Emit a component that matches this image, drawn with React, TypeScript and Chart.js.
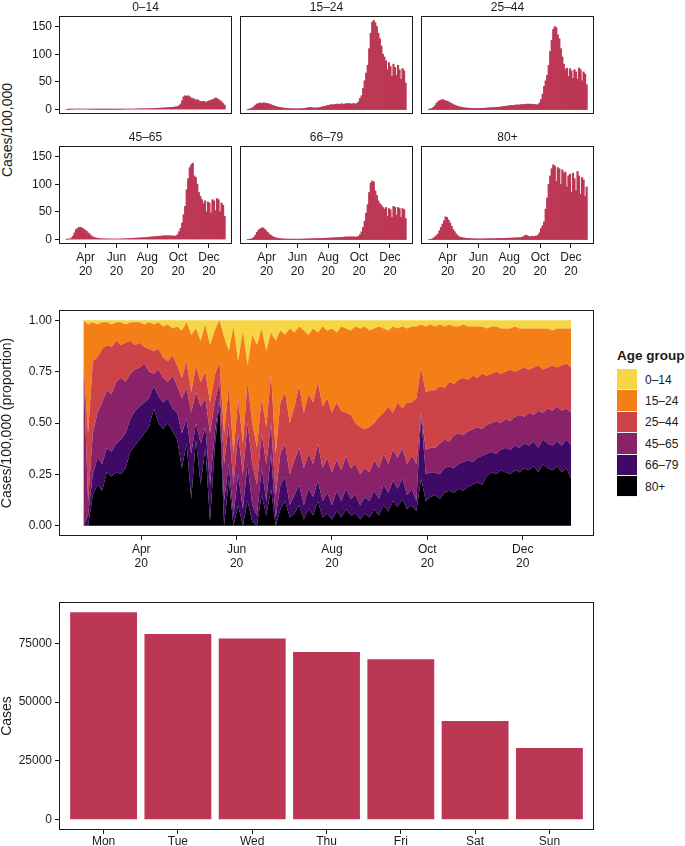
import React, { useEffect, useRef } from 'react';
import { Chart, registerables } from 'chart.js';

Chart.register(...registerables);

const FONT = '"Liberation Sans", Arial, Helvetica, sans-serif';
const INK = '#1a1a1a';
const BAR = '#BC3754';

Chart.defaults.font.family = FONT;
Chart.defaults.color = INK;

// one value every 3 days, day 0 = 24 Feb 2020
const STEP = 3;
const monthTicks = [37, 98, 159, 220, 281];
const monthLabels = [['Apr', '20'], ['Jun', '20'], ['Aug', '20'], ['Oct', '20'], ['Dec', '20']];

const ageGroups = ['0–14', '15–24', '25–44', '45–65', '66–79', '80+'];
const ageColors = ['#F6D645', '#F47F17', '#CE4347', '#8A226A', '#3E0A66', '#000004'];

// cases/100,000 per age group (top panels)
const rate0014 = [
  0, 0.2, 0.3, 0.5, 0.6, 0.8, 0.9, 1, 1, 1, 1, 0.9, 0.8, 0.8, 0.7,
  0.6, 0.5, 0.5, 0.4, 0.4, 0.3, 0.3, 0.3, 0.3, 0.3, 0.2, 0.2, 0.3, 0.3, 0.3,
  0.3, 0.3, 0.3, 0.4, 0.4, 0.5, 0.5, 0.6, 0.7, 0.8, 0.7, 0.8, 0.9, 1.0, 1.0,
  1.1, 1.2, 1.2, 1.3, 1.4, 1.5, 1.4, 1.6, 1.7, 1.8, 1.9, 2.0, 2.0, 2.1, 2.2,
  2.3, 2.5, 2.6, 2.8, 3.0, 3.2, 3.4, 3.5, 3.8, 4.0, 4.2, 4.5, 5, 5.5, 7,
  10, 16, 23, 25, 24, 25, 23, 21, 20, 19, 17, 18, 16, 15, 14,
  15, 14, 13, 15, 16, 17, 18, 19, 21, 20, 18, 16, 14, 11, 8,
];
const rate1524 = [
  0.5, 1, 2, 3, 5, 8, 10, 11, 12, 11, 12, 12, 11, 11, 10,
  9, 8, 7, 6, 5, 4.5, 4, 3.5, 3, 2.5, 2.2, 2, 1.8, 1.6, 1.5,
  1.5, 1.4, 1.4, 1.5, 1.5, 1.6, 1.8, 2, 2.5, 3, 3.5, 4, 3.5, 3, 3,
  3, 3.2, 3.5, 4, 5, 5.5, 6, 7, 7.5, 8, 9, 8.5, 9, 9.5, 10,
  9, 10, 10.5, 9.5, 10, 11, 10.5, 11, 10, 10.5, 11, 10, 11, 14, 20,
  25, 38, 52, 66, 80, 110, 138, 158, 161, 157, 150, 138, 128, 115, 100,
  95, 88, 72, 85, 78, 60, 82, 76, 62, 80, 72, 55, 74, 70, 48,
];
const rate2544 = [
  0.5, 1, 2, 4, 7, 11, 14, 16, 17, 18, 17, 16, 15, 14, 12,
  11, 9, 8, 7, 6, 5, 4.5, 4, 3.5, 3, 2.8, 2.5, 2.3, 2.2, 2,
  2, 2, 2, 2, 2.1, 2.2, 2.3, 2.5, 2.8, 3, 3.2, 3.5, 3.5, 3.6, 3.8,
  4, 4.2, 4.5, 5, 5.5, 5.8, 6, 6.5, 7, 7.5, 7, 7.5, 8, 8.5, 8,
  8.5, 9, 9.5, 9, 9.5, 10, 9.5, 10, 9, 9.5, 9, 8.5, 9, 12, 18,
  28, 42, 52, 62, 80, 105, 125, 145, 150, 148, 135, 128, 110, 95, 82,
  72, 75, 60, 74, 70, 56, 72, 68, 55, 75, 72, 52, 68, 64, 45,
];
const rate4565 = [
  0.3, 0.5, 1, 3, 6, 12, 18, 20, 22, 22, 21, 19, 17, 15, 12,
  10, 7, 5, 4, 3, 2.5, 2, 1.8, 1.5, 1.4, 1.3, 1.2, 1.2, 1.1, 1,
  1, 1, 1, 1, 1, 1.1, 1.2, 1.3, 1.5, 1.6, 1.8, 2, 2, 2.2, 2.3,
  2.5, 2.6, 2.8, 3, 3.2, 3.4, 3.5, 3.8, 4, 4.2, 4.5, 4.8, 5, 5.2, 5.5,
  5.8, 6, 6.2, 6.5, 6.8, 7, 6.8, 7, 6.5, 6.8, 6.5, 6, 6.5, 9, 14,
  20, 30, 45, 60, 90, 110, 130, 135, 138, 115, 112, 100, 85, 78, 72,
  65, 70, 50, 68, 66, 48, 72, 70, 52, 74, 72, 50, 66, 62, 42,
];
const rate6679 = [
  0.3, 0.5, 1, 2, 4, 8, 13, 17, 19, 21, 21, 19, 16, 13, 10,
  8, 6, 4.5, 3.5, 2.8, 2.2, 1.8, 1.5, 1.2, 1, 1, 0.9, 0.8, 0.8, 0.8,
  0.7, 0.7, 0.7, 0.7, 0.8, 0.8, 0.9, 1, 1.1, 1.2, 1.3, 1.4, 1.5, 1.6, 1.7,
  1.8, 1.9, 2, 2.1, 2.2, 2.3, 2.4, 2.5, 2.6, 2.8, 3, 3.1, 3.2, 3.4, 3.5,
  3.6, 3.8, 4, 4.2, 4.5, 4.8, 4.6, 5, 4.8, 5, 4.8, 4.5, 5, 6, 9,
  14, 22, 33, 48, 63, 85, 102, 106, 104, 88, 80, 70, 65, 62, 58,
  55, 58, 42, 56, 54, 40, 60, 58, 44, 58, 56, 40, 56, 54, 38,
];
const rate80 = [
  0, 0.3, 1, 2.5, 5, 7, 10, 16, 22, 28, 34, 41, 40, 35, 30,
  24, 18, 14, 10, 7, 5, 4, 3.5, 3, 2.5, 2.2, 2, 1.8, 1.6, 1.5,
  1.4, 1.3, 1.2, 1.2, 1.2, 1.2, 1.3, 1.3, 1.4, 1.5, 1.5, 1.6, 1.6, 1.7, 1.8,
  1.8, 1.9, 2, 2, 2.1, 2.2, 2.3, 2.4, 2.5, 2.6, 2.8, 3, 3, 3.2, 3.4,
  3.5, 4, 5, 6.5, 8, 7, 5.5, 5, 6, 5.5, 6, 6.5, 8, 12, 20,
  25, 32, 55, 75, 100, 115, 128, 135, 133, 105, 130, 128, 100, 126, 120,
  122, 95, 115, 118, 85, 120, 110, 88, 123, 115, 82, 112, 108, 78, 95,
];
const facetRates = [rate0014, rate1524, rate2544, rate4565, rate6679, rate80];

// proportion chart: upper edge of each band (cumulative from 80+ upwards)
const edge80 = [
  0, 0, 0.15, 0.2, 0.17, 0.26, 0.24, 0.26, 0.25, 0.28, 0.36, 0.39, 0.42, 0.45, 0.48,
  0.57, 0.5, 0.47, 0.5, 0.46, 0.42, 0.28, 0.4, 0.13, 0.42, 0.2, 0.38, 0.02, 0.38, 0.6,
  0, 0.22, 0, 0.1, 0, 0.12, 0.02, 0, 0.15, 0.05, 0.18, 0, 0.08, 0.12, 0.04,
  0.06, 0.1, 0.03, 0.08, 0.05, 0.12, 0.04, 0.06, 0.03, 0.07, 0.04, 0.08, 0.05, 0.06, 0.03,
  0.06, 0.04, 0.08, 0.05, 0.1, 0.07, 0.12, 0.09, 0.13, 0.08, 0.1, 0.07, 0.23, 0.12, 0.14,
  0.15, 0.13, 0.16, 0.17, 0.16, 0.18, 0.17, 0.19, 0.2, 0.21, 0.2, 0.24, 0.26, 0.25, 0.27,
  0.26, 0.25, 0.27, 0.26, 0.28, 0.27, 0.29, 0.26, 0.3, 0.28, 0.27, 0.29, 0.26, 0.28, 0.23,
];
const edge6679 = [
  0, 0.05, 0.25, 0.33, 0.3, 0.38, 0.36, 0.4, 0.42, 0.45, 0.52, 0.56, 0.58, 0.6, 0.62,
  0.68, 0.63, 0.6, 0.62, 0.57, 0.55, 0.45, 0.52, 0.35, 0.5, 0.4, 0.48, 0.2, 0.45, 0.62,
  0.12, 0.3, 0.05, 0.25, 0.08, 0.3, 0.1, 0.05, 0.28, 0.12, 0.35, 0.04, 0.2, 0.24, 0.1,
  0.15, 0.2, 0.1, 0.18, 0.14, 0.22, 0.12, 0.16, 0.1, 0.17, 0.12, 0.18, 0.13, 0.15, 0.1,
  0.14, 0.12, 0.17, 0.13, 0.2, 0.16, 0.22, 0.18, 0.23, 0.15, 0.18, 0.12, 0.54, 0.25, 0.26,
  0.26, 0.25, 0.28, 0.29, 0.28, 0.3, 0.31, 0.32, 0.31, 0.33, 0.34, 0.35, 0.36, 0.35, 0.37,
  0.38, 0.37, 0.39, 0.38, 0.4, 0.39, 0.41, 0.38, 0.42, 0.4, 0.39, 0.41, 0.39, 0.42, 0.39,
];
const edge4565 = [
  0.78, 0.12, 0.45, 0.55, 0.6, 0.66, 0.64, 0.7, 0.72, 0.7, 0.74, 0.76, 0.77, 0.79, 0.75,
  0.74, 0.76, 0.72, 0.7, 0.73, 0.68, 0.62, 0.67, 0.55, 0.65, 0.58, 0.62, 0.45, 0.6, 0.7,
  0.3, 0.5, 0.2, 0.45, 0.25, 0.5, 0.3, 0.2, 0.45, 0.3, 0.5, 0.15, 0.35, 0.4, 0.25,
  0.32, 0.38, 0.28, 0.35, 0.3, 0.4, 0.28, 0.33, 0.26, 0.32, 0.27, 0.34, 0.28, 0.3, 0.25,
  0.28, 0.26, 0.32, 0.28, 0.35, 0.3, 0.37, 0.33, 0.38, 0.3, 0.34, 0.3, 0.55, 0.37, 0.38,
  0.38, 0.4, 0.42, 0.41, 0.44, 0.45, 0.44, 0.46, 0.47, 0.48, 0.47, 0.49, 0.5, 0.51, 0.5,
  0.52, 0.51, 0.53, 0.54, 0.53, 0.55, 0.54, 0.56, 0.55, 0.57, 0.56, 0.58, 0.56, 0.57, 0.55,
];
const edge2544 = [
  0.8, 0.45, 0.8, 0.82, 0.86, 0.88, 0.87, 0.9, 0.88, 0.89, 0.9, 0.88, 0.89, 0.87, 0.86,
  0.85, 0.86, 0.82, 0.8, 0.83, 0.78, 0.72, 0.8, 0.65, 0.78, 0.7, 0.75, 0.6, 0.73, 0.8,
  0.45, 0.68, 0.35, 0.62, 0.4, 0.7, 0.5, 0.38, 0.62, 0.48, 0.74, 0.35, 0.6, 0.65, 0.5,
  0.58, 0.68, 0.55, 0.64, 0.6, 0.7, 0.58, 0.62, 0.55, 0.6, 0.56, 0.55, 0.54, 0.5, 0.48,
  0.47, 0.48, 0.5, 0.53, 0.55, 0.58, 0.55, 0.6, 0.57, 0.6, 0.6, 0.62, 0.77, 0.65, 0.66,
  0.66, 0.68, 0.67, 0.7, 0.69, 0.71, 0.72, 0.71, 0.73, 0.72, 0.74, 0.73, 0.74, 0.75, 0.74,
  0.75, 0.76, 0.75, 0.76, 0.77, 0.76, 0.77, 0.78, 0.76, 0.77, 0.78, 0.77, 0.78, 0.79, 0.77,
];
const edge1524 = [
  1, 0.98, 0.99, 0.98, 0.99, 0.99, 0.98, 0.99, 0.99, 0.98, 0.99, 0.99, 0.99, 0.98, 0.99,
  0.98, 0.99, 0.97, 0.98, 0.96, 0.97, 0.95, 0.99, 0.93, 0.96, 0.9, 0.98, 0.88, 0.95, 1.0,
  0.92, 0.85, 0.97, 0.8, 0.95, 0.78, 0.93, 0.88, 0.96, 0.85, 0.94, 0.9, 0.95, 0.93, 0.96,
  0.94, 0.97, 0.95, 0.93, 0.96, 0.94, 0.97, 0.95, 0.96, 0.94, 0.97, 0.96, 0.95, 0.97, 0.96,
  0.97, 0.95, 0.96, 0.97, 0.96, 0.95, 0.97, 0.96, 0.97, 0.96, 0.97, 0.97, 0.98, 0.97, 0.98,
  0.97, 0.98, 0.97, 0.98, 0.97, 0.97, 0.98, 0.97, 0.97, 0.97, 0.97, 0.96, 0.97, 0.97, 0.96,
  0.96, 0.96, 0.97, 0.96, 0.96, 0.96, 0.96, 0.96, 0.96, 0.96, 0.95, 0.96, 0.96, 0.96, 0.96,
];

// cases by weekday (bottom panel)
const weekdays = ['Mon', 'Tue', 'Wed', 'Thu', 'Fri', 'Sat', 'Sun'];
const weekdayCases = [88200, 79000, 77100, 71300, 68200, 42000, 30500];

const facetYTicks = [0, 50, 100, 150];
const propYTicks = [0, 0.25, 0.5, 0.75, 1];
const casesYTicks = [0, 25000, 50000, 75000];

const days = rate0014.map((_, i) => i * STEP);

// panel border like ggplot's panel.border
const framePlugin = {
  id: 'frame',
  afterDraw(chart: any) {
    const { ctx, chartArea: a } = chart;
    ctx.save();
    ctx.strokeStyle = INK;
    ctx.lineWidth = 1;
    const l = Math.round(a.left) + 0.5;
    const t = Math.round(a.top) + 0.5;
    const r = Math.round(a.right) - 0.5;
    const b = Math.round(a.bottom) - 0.5;
    ctx.strokeRect(l, t, r - l, b - t);
    ctx.restore();
  },
};

const tickFont = { size: 12, lineHeight: 1.2 };
const axisGrid = { drawOnChartArea: false, drawTicks: true, tickLength: 4, color: INK, offset: false };

// fixed axis sizes, and no extra room asked for half-labels at the ends
function fixWidth(w: number) {
  return (s: any) => {
    s.width = w;
    s.paddingTop = 0;
    s.paddingBottom = 0;
  };
}
function fixHeight(h: number) {
  return (s: any) => {
    s.height = h;
    s.paddingLeft = 0;
    s.paddingRight = 0;
  };
}

function dateAxis(show: boolean, height: number) {
  return {
    type: 'linear' as const,
    display: show,
    min: -15.6,
    max: 326.6,
    offset: false,
    afterBuildTicks: (s: any) => {
      s.ticks = monthTicks.map((v) => ({ value: v }));
    },
    afterFit: show ? fixHeight(height) : undefined,
    ticks: {
      callback: (v: any) => monthLabels[monthTicks.indexOf(v)],
      autoSkip: false,
      maxRotation: 0,
      padding: 2,
      font: tickFont,
      color: INK,
    },
    grid: axisGrid,
    border: { display: false },
  };
}

function ChartBox({ left, top, width, height, make }: { left: number; top: number; width: number; height: number; make: () => any }) {
  const ref = useRef<HTMLCanvasElement>(null);
  useEffect(() => {
    if (!ref.current) return;
    const chart = new Chart(ref.current, make());
    return () => chart.destroy();
  }, []);
  return (
    <div style={{ position: 'absolute', left, top, width, height }}>
      <canvas ref={ref} width={width} height={height} style={{ display: 'block', width, height }} />
    </div>
  );
}

const COL_X = [59, 240, 421];
const ROW_Y = [16, 146];
const PANEL_W = 173;
const PANEL_H = 98;
const TITLE_H = 16;
const X_AXIS_H = 36;

function Facet({ idx }: { idx: number }) {
  const col = idx % 3;
  const row = Math.floor(idx / 3);
  const showY = col === 0;
  const showX = row === 1;
  const yW = showY ? 59 : 0;
  const padL = showY ? 0 : 1;
  const padB = showX ? 0 : 1;
  const left = COL_X[col] - yW - padL;
  const top = ROW_Y[row] - TITLE_H;
  const width = yW + padL + PANEL_W + 1;
  const height = TITLE_H + PANEL_H + (showX ? X_AXIS_H : 0) + padB;
  const values = facetRates[idx];

  const make = () => ({
    type: 'bar',
    data: {
      datasets: [
        {
          data: days.map((d, i) => ({ x: d, y: values[i] })),
          backgroundColor: BAR,
          borderWidth: 0,
          barPercentage: 1,
          categoryPercentage: 1,
        },
      ],
    },
    options: {
      responsive: false,
      animation: false,
      events: [],
      layout: { padding: { left: padL, right: 1, top: 0, bottom: padB } },
      plugins: {
        legend: { display: false },
        tooltip: { enabled: false },
        title: {
          display: true,
          text: ageGroups[idx],
          fullSize: false,
          color: INK,
          font: { size: 12, weight: 'normal', lineHeight: 1.2 },
          padding: { top: 0, bottom: 1.6 },
        },
      },
      scales: {
        x: dateAxis(showX, X_AXIS_H),
        y: {
          display: showY,
          min: -8.05,
          max: 169.05,
          afterBuildTicks: (s: any) => {
            s.ticks = facetYTicks.map((v) => ({ value: v }));
          },
          afterFit: showY ? fixWidth(yW) : undefined,
          ticks: { padding: 3, font: tickFont, color: INK },
          grid: axisGrid,
          border: { display: false },
        },
      },
    },
    plugins: [framePlugin],
  });

  return <ChartBox left={left} top={top} width={width} height={height} make={make} />;
}

function ProportionChart() {
  const edges = [edge80, edge6679, edge4565, edge2544, edge1524];
  // bands from the bottom: 80+, 66–79, 45–65, 25–44, 15–24, 0–14
  const shares = [0, 1, 2, 3, 4, 5].map((k) =>
    days.map((_, i) => {
      const upper = k < 5 ? edges[k][i] : 1;
      const lower = k > 0 ? edges[k - 1][i] : 0;
      return Math.max(0, upper - lower);
    })
  );
  const make = () => ({
    type: 'line',
    data: {
      datasets: shares.map((s, k) => ({
        label: ageGroups[5 - k],
        data: days.map((d, i) => ({ x: d, y: s[i] })),
        backgroundColor: ageColors[5 - k],
        borderWidth: 0,
        pointRadius: 0,
        tension: 0,
        fill: k === 0 ? 'origin' : '-1',
      })),
    },
    options: {
      responsive: false,
      animation: false,
      events: [],
      layout: { padding: { left: 0, right: 6, top: 10, bottom: 0 } },
      plugins: { legend: { display: false }, tooltip: { enabled: false } },
      scales: {
        x: dateAxis(true, X_AXIS_H),
        y: {
          stacked: true,
          min: -0.05,
          max: 1.05,
          afterBuildTicks: (s: any) => {
            s.ticks = propYTicks.map((v) => ({ value: v }));
          },
          afterFit: fixWidth(59),
          ticks: { padding: 3, font: tickFont, color: INK, callback: (v: any) => Number(v).toFixed(2) },
          title: { display: true, text: 'Cases/100,000 (proportion)', color: INK, font: { size: 14, lineHeight: 1 }, padding: 0 },
          grid: axisGrid,
          border: { display: false },
        },
      },
    },
    plugins: [framePlugin],
  });
  return <ChartBox left={0} top={300} width={600} height={10 + 226 + X_AXIS_H} make={make} />;
}

function WeekdayChart() {
  const make = () => ({
    type: 'bar',
    data: {
      datasets: [
        {
          data: weekdayCases.map((v, i) => ({ x: i + 1, y: v })),
          backgroundColor: BAR,
          borderWidth: 0,
          barPercentage: 0.9,
          categoryPercentage: 1,
        },
      ],
    },
    options: {
      responsive: false,
      animation: false,
      events: [],
      layout: { padding: { left: 0, right: 6, top: 10, bottom: 0 } },
      plugins: { legend: { display: false }, tooltip: { enabled: false } },
      scales: {
        x: {
          type: 'linear',
          min: 0.4,
          max: 7.6,
          offset: false,
          afterBuildTicks: (s: any) => {
            s.ticks = weekdays.map((_, i) => ({ value: i + 1 }));
          },
          afterFit: fixHeight(16),
          ticks: { callback: (v: any) => weekdays[v - 1], autoSkip: false, maxRotation: 0, padding: 0, font: tickFont, color: INK },
          grid: { ...axisGrid, tickLength: 4 },
          border: { display: false },
        },
        y: {
          min: -4410,
          max: 92610,
          afterBuildTicks: (s: any) => {
            s.ticks = casesYTicks.map((v) => ({ value: v }));
          },
          afterFit: fixWidth(59),
          ticks: { padding: 3, font: tickFont, color: INK, callback: (v: any) => String(v) },
          title: { display: true, text: 'Cases', color: INK, font: { size: 14, lineHeight: 1 }, padding: 0 },
          grid: axisGrid,
          border: { display: false },
        },
      },
    },
    plugins: [framePlugin],
  });
  return <ChartBox left={0} top={592} width={600} height={254} make={make} />;
}

function Legend() {
  return (
    <div style={{ position: 'absolute', left: 617, top: 347, fontFamily: FONT, color: INK }}>
      <div style={{ fontSize: 13.5, fontWeight: 'bold', lineHeight: '18px', marginBottom: 4 }}>Age group</div>
      {ageGroups.map((g, i) => (
        <div key={g} style={{ display: 'flex', alignItems: 'center', height: 21.4 }}>
          <div style={{ width: 20, height: 20.4, background: ageColors[i], borderBottom: '1px solid #f0f0f0' }} />
          <div style={{ marginLeft: 8, fontSize: 12 }}>{g}</div>
        </div>
      ))}
    </div>
  );
}

export default function App() {
  return (
    <div style={{ position: 'absolute', left: 0, top: 0, width: 685, height: 846, overflow: 'hidden', background: '#fff' }}>
      <div
        style={{
          position: 'absolute',
          left: 7,
          top: 130,
          transform: 'translate(-50%, -50%) rotate(-90deg)',
          whiteSpace: 'nowrap',
          fontFamily: FONT,
          fontSize: 14,
          color: INK,
        }}
      >
        Cases/100,000
      </div>
      {facetRates.map((_, i) => (
        <Facet key={i} idx={i} />
      ))}
      <ProportionChart />
      <Legend />
      <WeekdayChart />
    </div>
  );
}
